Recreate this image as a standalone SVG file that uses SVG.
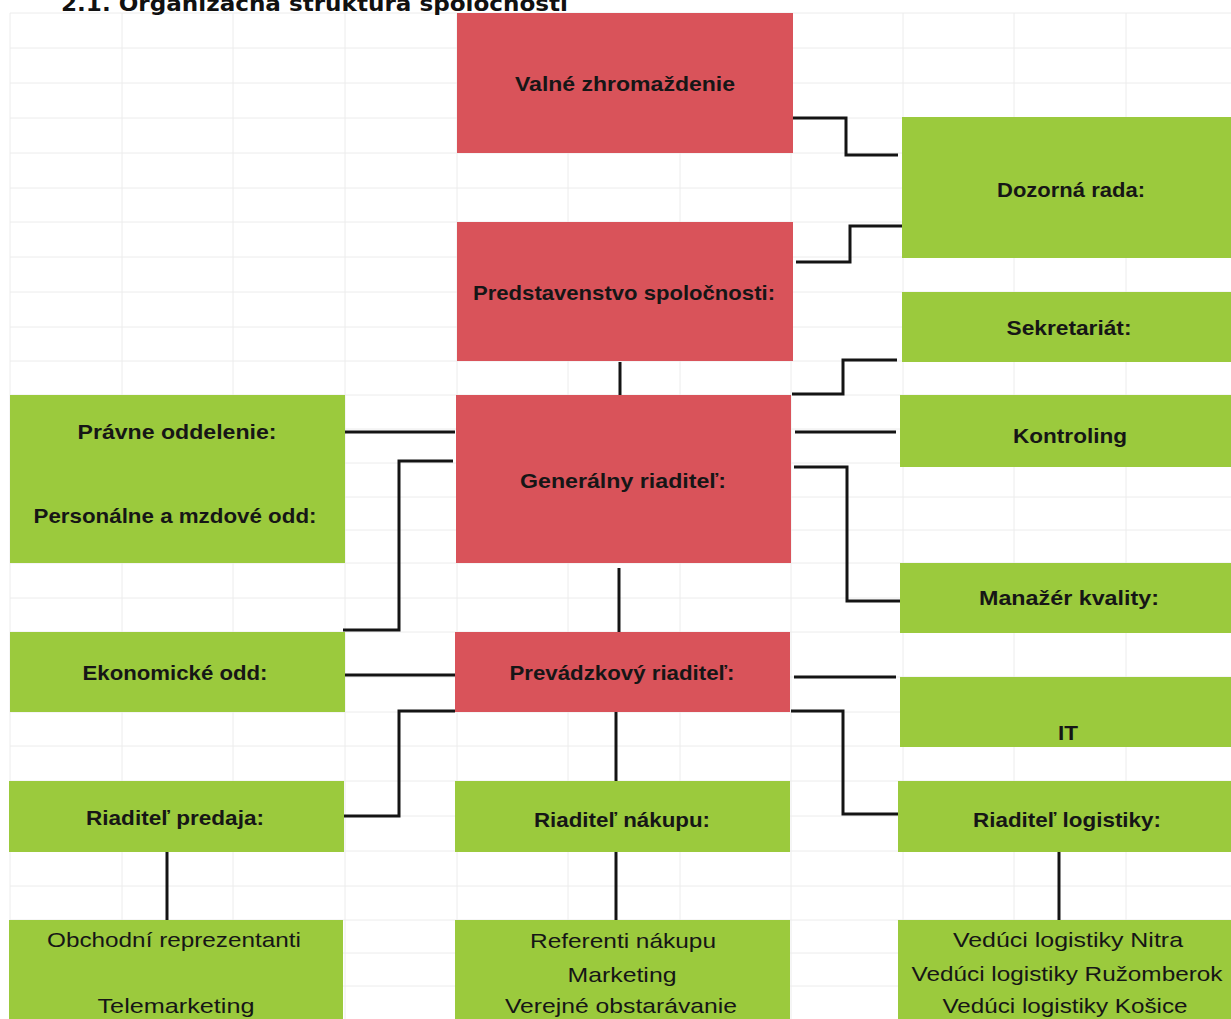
<svg xmlns="http://www.w3.org/2000/svg" width="1231" height="1019" viewBox="0 0 1231 1019">
<style>
.grid line{stroke:#ececec;stroke-width:1}
.red{fill:#d9535a}
.green{fill:#9bca3d}
.t{font-family:"Liberation Sans",Arial,sans-serif;font-size:21px;fill:#161616;text-anchor:middle}
.b{font-weight:bold}
.conn path{fill:none;stroke:#141414;stroke-width:3}
</style>
<rect width="1231" height="1019" fill="#ffffff"/>
<g class="grid">
<line x1="10" y1="13" x2="10" y2="1019"/><line x1="122" y1="13" x2="122" y2="1019"/><line x1="233" y1="13" x2="233" y2="1019"/><line x1="345" y1="13" x2="345" y2="1019"/><line x1="457" y1="13" x2="457" y2="1019"/><line x1="568" y1="13" x2="568" y2="1019"/><line x1="680" y1="13" x2="680" y2="1019"/><line x1="791" y1="13" x2="791" y2="1019"/><line x1="903" y1="13" x2="903" y2="1019"/><line x1="1014" y1="13" x2="1014" y2="1019"/><line x1="1126" y1="13" x2="1126" y2="1019"/>
<line x1="10" y1="13" x2="1231" y2="13"/><line x1="10" y1="48" x2="1231" y2="48"/><line x1="10" y1="83" x2="1231" y2="83"/><line x1="10" y1="118" x2="1231" y2="118"/><line x1="10" y1="153" x2="1231" y2="153"/><line x1="10" y1="188" x2="1231" y2="188"/><line x1="10" y1="222" x2="1231" y2="222"/><line x1="10" y1="257" x2="1231" y2="257"/><line x1="10" y1="292" x2="1231" y2="292"/><line x1="10" y1="327" x2="1231" y2="327"/><line x1="10" y1="361" x2="1231" y2="361"/><line x1="10" y1="395" x2="1231" y2="395"/><line x1="10" y1="429" x2="1231" y2="429"/><line x1="10" y1="463" x2="1231" y2="463"/><line x1="10" y1="497" x2="1231" y2="497"/><line x1="10" y1="530" x2="1231" y2="530"/><line x1="10" y1="563" x2="1231" y2="563"/><line x1="10" y1="598" x2="1231" y2="598"/><line x1="10" y1="632" x2="1231" y2="632"/><line x1="10" y1="677" x2="1231" y2="677"/><line x1="10" y1="712" x2="1231" y2="712"/><line x1="10" y1="746" x2="1231" y2="746"/><line x1="10" y1="781" x2="1231" y2="781"/><line x1="10" y1="816" x2="1231" y2="816"/><line x1="10" y1="851" x2="1231" y2="851"/><line x1="10" y1="886" x2="1231" y2="886"/><line x1="10" y1="920" x2="1231" y2="920"/><line x1="10" y1="953" x2="1231" y2="953"/><line x1="10" y1="986" x2="1231" y2="986"/>
</g>
<text x="61" y="11" font-family="'DejaVu Sans',Verdana,sans-serif" font-size="22" font-weight="bold" fill="#111" textLength="507" lengthAdjust="spacingAndGlyphs">2.1. Organizačná štruktúra spoločnosti</text>
<g class="conn" id="connectors">
<path d="M793,118 H846 V155 H898"/>
<path d="M796,262 H850 V226 H902"/>
<path d="M792,394 H843 V360 H897"/>
<path d="M620,362 V395"/>
<path d="M345,432 H455"/>
<path d="M453,461 H399 V630 H343"/>
<path d="M795,432 H896"/>
<path d="M794,467 H847 V601 H902"/>
<path d="M619,568 V632"/>
<path d="M343,675 H455"/>
<path d="M794,677 H896"/>
<path d="M455,711 H399 V816 H344"/>
<path d="M616,712 V782"/>
<path d="M791,711 H843 V814 H898"/>
<path d="M167,851 V920"/>
<path d="M616,851 V920"/>
<path d="M1059,852 V920"/>
</g>
<g id="valne-zhromazdenie"><rect class="red" x="457" y="13" width="336" height="140"/><text class="t b" x="625" y="91" textLength="220" lengthAdjust="spacingAndGlyphs">Valné zhromaždenie</text></g>
<g id="predstavenstvo"><rect class="red" x="457" y="222" width="336" height="139"/><text class="t b" x="624" y="300" textLength="302" lengthAdjust="spacingAndGlyphs">Predstavenstvo spoločnosti:</text></g>
<g id="generalny-riaditel"><rect class="red" x="456" y="395" width="335" height="168"/><text class="t b" x="623" y="488" textLength="206" lengthAdjust="spacingAndGlyphs">Generálny riaditeľ:</text></g>
<g id="prevadzkovy-riaditel"><rect class="red" x="455" y="632" width="335" height="80"/><text class="t b" x="622" y="680" textLength="225" lengthAdjust="spacingAndGlyphs">Prevádzkový riaditeľ:</text></g>
<g id="dozorna-rada"><rect class="green" x="902" y="117" width="329" height="141"/><text class="t b" x="1071" y="197" textLength="148" lengthAdjust="spacingAndGlyphs">Dozorná rada:</text></g>
<g id="sekretariat"><rect class="green" x="902" y="292" width="329" height="70"/><text class="t b" x="1069" y="335" textLength="125" lengthAdjust="spacingAndGlyphs">Sekretariát:</text></g>
<g id="kontroling"><rect class="green" x="900" y="395" width="331" height="72"/><text class="t b" x="1070" y="443" textLength="114" lengthAdjust="spacingAndGlyphs">Kontroling</text></g>
<g id="manazer-kvality"><rect class="green" x="900" y="563" width="331" height="70"/><text class="t b" x="1069" y="605" textLength="180" lengthAdjust="spacingAndGlyphs">Manažér kvality:</text></g>
<g id="it"><rect class="green" x="900" y="677" width="331" height="70"/><text class="t b" x="1068" y="740" textLength="20" lengthAdjust="spacingAndGlyphs">IT</text></g>
<g id="riaditel-logistiky"><rect class="green" x="898" y="781" width="333" height="71"/><text class="t b" x="1067" y="827" textLength="188" lengthAdjust="spacingAndGlyphs">Riaditeľ logistiky:</text></g>
<g id="veduci-logistiky"><rect class="green" x="898" y="920" width="333" height="99"/>
<text class="t" x="1068" y="947" textLength="230" lengthAdjust="spacingAndGlyphs">Vedúci logistiky Nitra</text>
<text class="t" x="1067" y="981" textLength="311" lengthAdjust="spacingAndGlyphs">Vedúci logistiky Ružomberok</text>
<text class="t" x="1065" y="1013" textLength="245" lengthAdjust="spacingAndGlyphs">Vedúci logistiky Košice</text></g>
<g id="pravne-personalne"><rect class="green" x="10" y="395" width="335" height="168"/>
<text class="t b" x="177" y="439" textLength="199" lengthAdjust="spacingAndGlyphs">Právne oddelenie:</text>
<text class="t b" x="175" y="523" textLength="283" lengthAdjust="spacingAndGlyphs">Personálne a mzdové odd:</text></g>
<g id="ekonomicke-odd"><rect class="green" x="10" y="632" width="335" height="80"/><text class="t b" x="175" y="680" textLength="185" lengthAdjust="spacingAndGlyphs">Ekonomické odd:</text></g>
<g id="riaditel-predaja"><rect class="green" x="9" y="781" width="335" height="71"/><text class="t b" x="175" y="825" textLength="178" lengthAdjust="spacingAndGlyphs">Riaditeľ predaja:</text></g>
<g id="obchod"><rect class="green" x="9" y="920" width="334" height="99"/>
<text class="t" x="174" y="947" textLength="254" lengthAdjust="spacingAndGlyphs">Obchodní reprezentanti</text>
<text class="t" x="176" y="1013" textLength="157" lengthAdjust="spacingAndGlyphs">Telemarketing</text></g>
<g id="riaditel-nakupu"><rect class="green" x="455" y="781" width="335" height="71"/><text class="t b" x="622" y="827" textLength="176" lengthAdjust="spacingAndGlyphs">Riaditeľ nákupu:</text></g>
<g id="nakup"><rect class="green" x="455" y="920" width="335" height="99"/>
<text class="t" x="623" y="948" textLength="186" lengthAdjust="spacingAndGlyphs">Referenti nákupu</text>
<text class="t" x="622" y="982" textLength="109" lengthAdjust="spacingAndGlyphs">Marketing</text>
<text class="t" x="621" y="1013" textLength="232" lengthAdjust="spacingAndGlyphs">Verejné obstarávanie</text></g>
</svg>
